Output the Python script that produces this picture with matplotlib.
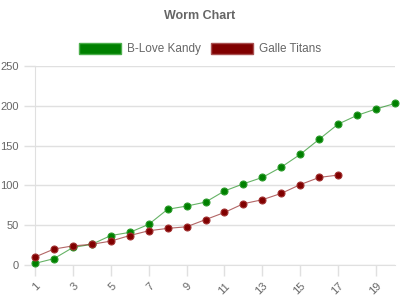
import matplotlib
matplotlib.use("Agg")
import matplotlib.pyplot as plt
from matplotlib.patches import Patch

plt.rcParams['font.family'] = ['Liberation Sans', 'DejaVu Sans']

overs = list(range(1, 21))
kandy = [2, 8, 22, 26, 37, 41, 51, 70, 74, 79, 93, 102, 110, 123, 139, 158, 177, 188, 196, 203]
galle_overs = list(range(1, 18))
galle = [10, 20, 24, 26, 30, 37, 43, 46, 48, 57, 66, 77, 82, 90, 101, 110, 113]

green = '#008000'
red = '#800000'
txt = '#666666'
grid = '#e0e0e0'

fig = plt.figure(figsize=(4, 3), dpi=100)
ax = fig.add_axes([35 / 400, 35 / 300, 360 / 400, 199 / 300])

ax.plot(overs, kandy, color=green, lw=0.8, alpha=0.6, zorder=2)
ax.plot(overs, kandy, 'o', color=green, ms=5, mec='#2a9a2a', mew=0.8, zorder=3,
        clip_on=False)
ax.plot(galle_overs, galle, color=red, lw=0.8, alpha=0.6, zorder=2)
ax.plot(galle_overs, galle, 'o', color=red, ms=5, mec='#a03030', mew=0.8, zorder=3,
        clip_on=False)

ax.set_xlim(1, 20)
ax.set_ylim(0, 250)
ax.set_yticks(range(0, 251, 50))
ax.set_xticks(range(1, 20, 2))
ax.set_xticklabels([str(v) for v in range(1, 20, 2)], rotation=45, ha='right',
                   rotation_mode='anchor')
ax.grid(axis='y', color=grid, lw=1)
ax.set_axisbelow(True)
for s in ['top', 'right']:
    ax.spines[s].set_visible(False)
for s in ['left', 'bottom']:
    ax.spines[s].set_color(grid)
ax.tick_params(colors=grid, labelcolor=txt, labelsize=8, length=8, width=1)

fig.text(0.5, 1 - 16 / 300, 'Worm Chart', ha='center', va='center',
         fontsize=9, fontweight='bold', color=txt)

handles = [Patch(facecolor=green, edgecolor='#4cae4c', label='B-Love Kandy'),
           Patch(facecolor=red, edgecolor='#a85050', label='Galle Titans')]
fig.legend(handles=handles, loc='center', bbox_to_anchor=(0.5, 1 - 49 / 300),
           ncol=2, frameon=False, fontsize=8.5, labelcolor=txt,
           handlelength=3.6, handleheight=1.1, columnspacing=0.8, handletextpad=0.5)

fig.savefig('out.png', dpi=100)
